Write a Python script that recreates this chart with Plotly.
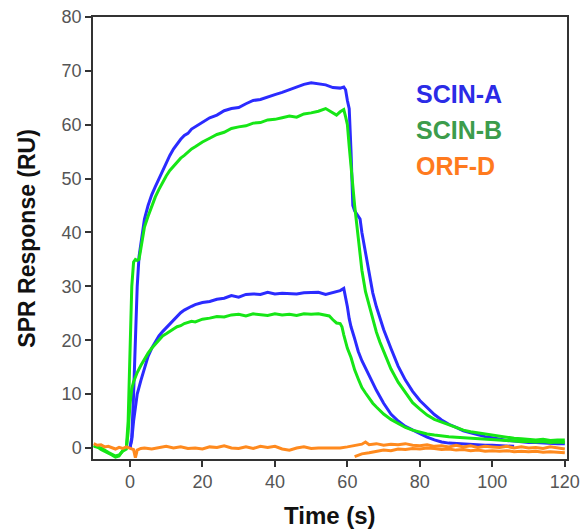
import plotly.graph_objects as go

# ---------------- data ----------------
scin_a_high_t = [0, 0.5, 1, 1.5, 2, 2.5, 3, 4, 5, 6, 7, 8, 9, 10, 11, 12, 13, 14, 15, 16, 17, 18,
                 20, 22, 24, 26, 28, 30, 32, 34, 36, 38, 40, 42, 44, 46, 48, 50, 52, 54, 56, 58,
                 59, 59.5, 60, 60.5, 61, 61.5, 62, 63, 63.5, 64, 65, 66, 67, 68, 69, 70, 72, 74,
                 76, 78, 80, 82, 84, 86, 88, 90, 92, 94, 96, 98, 100, 102, 104, 106, 108, 110,
                 112, 114, 116, 118, 120]
scin_a_high_v = [0, 2, 10, 20, 30, 35.5, 38, 42.5, 45, 47, 48.5, 50, 51.5, 53, 54.3, 55.5, 56.5,
                 57.3, 58, 58.4, 59.2, 59.6, 60.4, 61.3, 61.8, 62.6, 63, 63.2, 63.9, 64.5, 64.7,
                 65.2, 65.6, 66.0, 66.5, 66.9, 67.5, 67.8, 67.6, 67.4, 66.9, 66.8, 67.0, 66.5,
                 64.5, 63, 55, 45, 44, 43, 42.5, 40, 36, 32, 28.8, 26.2, 24, 22, 18.5, 15.2,
                 12.6, 10.5, 8.8, 7.4, 6.2, 5.2, 4.4, 3.8, 3.2, 2.8, 2.4, 2.1, 1.9, 1.6, 1.4,
                 1.3, 1.1, 1.0, 1.0, 0.9, 0.9, 0.8, 0.8]

scin_b_high_t = [-10, -9, -8, -7, -6, -5, -4, -3, -2, -1, -0.5, 0, 0.5, 1, 1.5, 2, 2.5, 3, 4, 5,
                 6, 7, 8, 9, 10, 11, 12, 13, 14, 15, 16, 17, 18, 20, 22, 24, 26, 28, 30, 32, 34,
                 36, 38, 40, 42, 44, 46, 48, 50, 52, 54, 56, 57, 58, 59, 59.5, 60, 60.5, 61,
                 61.5, 62, 63, 64, 65, 66, 67, 68, 69, 70, 72, 74, 76, 78, 80, 82, 84, 86, 88,
                 90, 92, 94, 96, 98, 100, 102, 104, 106, 108, 110, 112, 114, 116, 118, 120]
scin_b_high_v = [0.5, 0.2, -0.3, -0.6, -1.0, -1.3, -1.7, -1.5, -0.5, 0, 5, 18, 30, 34.5, 35,
                 34.8, 35, 37, 41, 43, 45, 46.6, 48, 49.3, 50.5, 51.5, 52.3, 53, 53.8, 54.3,
                 54.9, 55.5, 55.9, 56.8, 57.5, 58.2, 58.6, 59.3, 59.6, 59.8, 60.3, 60.4, 60.9,
                 61.0, 61.3, 61.6, 61.4, 62.0, 62.2, 62.5, 63.0, 62.2, 61.8, 62.4, 62.8, 61.5,
                 60, 56, 52, 49, 45, 39, 33, 29, 26.5, 23.7, 21.5, 19.6, 17.9, 14.7, 12.2, 10.2,
                 8.4, 7.2, 6.1, 5.3, 4.8, 4.2, 3.8, 3.3, 3.0, 2.8, 2.5, 2.3, 2.2, 2.0, 1.8, 1.7,
                 1.6, 1.5, 1.6, 1.4, 1.5, 1.5]

scin_a_low_t = [0, 0.5, 1, 1.5, 2, 3, 4, 5, 6, 7, 8, 9, 10, 11, 12, 13, 14, 15, 16, 17, 18, 20,
                22, 24, 26, 28, 30, 32, 34, 36, 38, 40, 42, 44, 46, 48, 50, 52, 54, 56, 58, 59,
                59.5, 60, 60.5, 61, 62, 63, 64, 65, 66, 67, 68, 69, 70, 72, 74, 76, 78, 80, 82,
                84, 86, 88, 90, 92, 94, 96, 98, 100, 102, 104, 106]
scin_a_low_v = [0, 1.5, 5, 8, 10, 12.5, 15, 17, 18.5, 19.8, 20.8, 21.6, 22.3, 23.2, 23.8, 24.6,
                25.1, 25.6, 26, 26.3, 26.6, 27, 27.2, 27.6, 27.8, 28.3, 28.0, 28.5, 28.6, 28.5,
                28.9, 28.6, 28.7, 28.6, 28.6, 28.8, 28.9, 28.9, 28.5, 28.8, 29.2, 29.6, 28,
                26.2, 24, 22.5, 20.3, 17.9, 16.2, 14.8, 13.3, 12.0, 10.7, 9.5, 8.3, 6.3, 5.0,
                4.0, 3.3, 2.6, 2.0, 1.5, 1.1, 0.9, 0.8, 0.7, 0.7, 0.6, 0.5, 0.5, 0.4, 0.4, 0.3]

scin_b_low_t = [-10, -8, -6, -4, -3, -2, -1, -0.5, 0, 0.5, 1, 2, 3, 4, 5, 6, 7, 8, 9, 10, 11,
                12, 13, 14, 15, 16, 17, 18, 20, 22, 24, 26, 28, 30, 32, 34, 36, 38, 40, 42, 44,
                46, 48, 50, 52, 54, 55, 56, 57, 58, 58.5, 59, 60, 61, 62, 63, 64, 65, 66, 67,
                68, 69, 70, 72, 74, 76, 78, 80, 82, 84, 86, 88, 90, 92, 94, 96, 98, 100, 102,
                104, 106, 108, 110, 112, 114, 116, 118, 120]
scin_b_low_v = [0.3, 0, -0.8, -1.5, -1.3, -0.6, -0.2, 3, 8, 11, 12.3, 14, 15.3, 16.6, 17.6,
                18.5, 19.3, 20.1, 20.8, 21.2, 21.7, 22.1, 22.5, 22.7, 23.1, 23.3, 23.5, 23.4,
                23.9, 24.1, 24.4, 24.3, 24.7, 24.8, 24.5, 24.9, 24.7, 24.6, 24.9, 24.7, 24.8,
                24.6, 24.9, 24.8, 24.9, 24.7, 24.5, 23.8, 23.2, 23.1, 22.5, 21, 18.5, 16.8,
                14.5, 12.8, 11.2, 10.2, 9.2, 8.3, 7.6, 6.9, 6.3, 5.3, 4.5, 3.8, 3.3, 2.9, 2.6,
                2.4, 2.2, 2.1, 2.0, 1.9, 1.8, 1.7, 1.6, 1.5, 1.5, 1.4, 1.3, 1.2, 1.2, 1.1, 1.2,
                1.0, 1.1, 1.0]

orf_d_1_t = [-10, -9, -8, -7, -6, -5, -4, -3, -2, -1, 0, 1, 1.5, 2, 3, 4, 6, 8, 10, 12, 14, 16,
             18, 20, 22, 24, 26, 28, 30, 32, 34, 36, 38, 40, 42, 44, 46, 48, 50, 52, 54, 56,
             58, 60, 62, 64, 65, 66, 68, 70, 72, 74, 76, 78, 80, 82, 84, 86, 88, 90, 92, 94,
             96, 98, 100, 102, 104, 106, 108, 110, 112, 114, 116, 118, 120]
orf_d_1_v = [0.8, 0.5, 0.6, 0.2, 0.3, 0, -0.2, 0.1, -0.1, 0.2, 0, -0.3, -1.8, -0.4, -0.1, 0,
             -0.2, 0.1, 0.3, 0, 0.2, -0.1, 0, -0.2, 0.2, 0.1, 0.4, 0, -0.1, 0.2, -0.1, 0.3,
             0.1, 0.3, -0.2, -0.4, 0, 0.2, -0.1, 0, 0, 0.1, 0, 0.2, 0.4, 0.7, 1.1, 0.6, 0.8,
             0.5, 0.7, 0.6, 0.8, 0.5, 0.4, 0.6, 0.3, 0.4, 0.2, 0.5, 0.2, 0.4, 0.1, 0.3, 0.2,
             0.1, 0.3, 0, 0.2, 0, 0.1, -0.1, 0.2, 0, -0.2]

orf_d_2_t = [62, 63, 64, 66, 68, 70, 72, 74, 76, 78, 80, 82, 84, 86, 88, 90, 92, 94, 96, 98,
             100, 102, 104, 106, 108, 110, 112, 114, 116, 118, 120]
orf_d_2_v = [-1.6, -1.4, -1.1, -0.9, -0.6, -0.4, -0.5, -0.2, -0.3, -0.1, -0.2, 0, -0.1, -0.3,
             -0.2, -0.4, -0.3, -0.5, -0.4, -0.6, -0.5, -0.6, -0.5, -0.7, -0.6, -0.7, -0.6,
             -0.8, -0.7, -0.8, -0.9]

label_names = ["SCIN-A", "SCIN-B", "ORF-D"]
x_ticks = [0, 20, 40, 60, 80, 100, 120]
y_ticks = [0, 10, 20, 30, 40, 50, 60, 70, 80]

# ---------------- styles ----------------
BLUE = "#2b2bff"
GREEN = "#16e616"
ORANGE = "#ff8a1e"
label_colors = ["#2b2be6", "#3c9c4c", "#ff7a1e"]
FONT = "Liberation Sans, Arial"

fig = go.Figure()
series = [
    (scin_a_high_t, scin_a_high_v, BLUE),
    (scin_a_low_t, scin_a_low_v, BLUE),
    (scin_b_high_t, scin_b_high_v, GREEN),
    (scin_b_low_t, scin_b_low_v, GREEN),
    (orf_d_2_t, orf_d_2_v, ORANGE),
    (orf_d_1_t, orf_d_1_v, ORANGE),
]
for t, v, c in series:
    fig.add_trace(go.Scatter(x=t, y=v, mode="lines",
                             line=dict(color=c, width=3), showlegend=False,
                             hoverinfo="skip"))

ys = [0.826, 0.744, 0.663]
for name, col, yy in zip(label_names, label_colors, ys):
    fig.add_annotation(text="<b>%s</b>" % name, xref="paper", yref="paper",
                       x=0.677, y=yy, xanchor="left", yanchor="middle",
                       showarrow=False,
                       font=dict(family=FONT, size=25, color=col))

# axis titles placed as paper annotations
fig.add_annotation(text="<b>Time (s)</b>", xref="paper", yref="paper",
                   x=0.5, y=-0.128, xanchor="center", yanchor="middle", showarrow=False,
                   font=dict(family=FONT, size=24, color="#111111"))
fig.add_annotation(text="<b>SPR Response (RU)</b>", xref="paper", yref="paper",
                   x=-0.14, y=0.5, xanchor="center", yanchor="middle", showarrow=False,
                   textangle=-90,
                   font=dict(family=FONT, size=23, color="#111111"))

axis_common = dict(showgrid=False, zeroline=False, showline=True, mirror=True,
                   linecolor="#333333", linewidth=1.5, ticks="outside", ticklen=6,
                   tickwidth=1.5, tickcolor="#333333", automargin=False,
                   tickfont=dict(family=FONT, size=18, color="#555555"))

fig.update_xaxes(range=[-10.2, 120.6], tickvals=x_ticks, **axis_common)
fig.update_yaxes(range=[-2.05, 80], tickvals=y_ticks, **axis_common)

fig.update_layout(width=587, height=531, margin=dict(l=93, r=20, t=17, b=72),
                  paper_bgcolor="white", plot_bgcolor="white")

fig.write_html("out.html", config={"displayModeBar": False},
               post_script="document.body.style.margin='0';document.body.style.overflow='hidden';")
